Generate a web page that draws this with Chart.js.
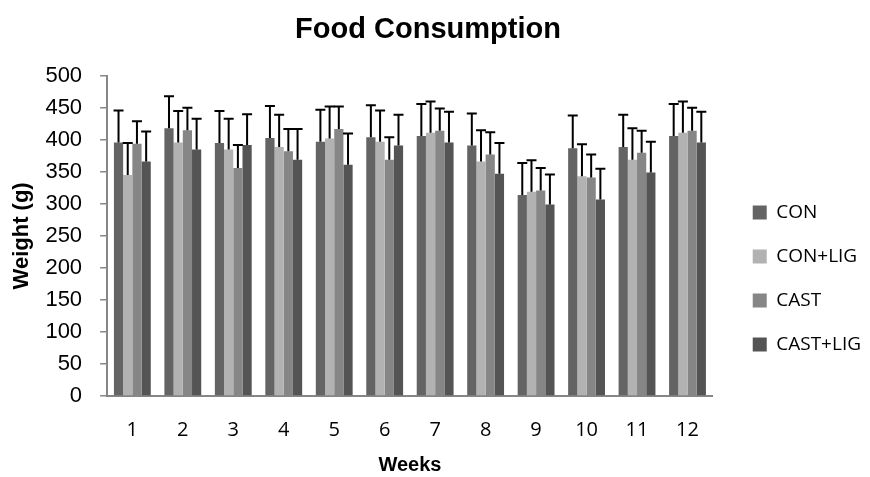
<!DOCTYPE html>
<html>
<head>
<meta charset="utf-8">
<script src="https://cdn.jsdelivr.net/npm/chart.js@4"></script>
<style>
  html, body { margin: 0; padding: 0; background: #fff; }
  #wrap { width: 870px; height: 477px; }
</style>
</head>
<body>
<div id="wrap"><canvas id="foodChart"></canvas></div>
<script>
const weeks = ['1', '2', '3', '4', '5', '6', '7', '8', '9', '10', '11', '12'];

const con = [396, 418, 395, 403, 397, 404, 406, 391, 314, 387, 389, 406];
const conErr = [50, 50, 50, 50, 50, 50, 50, 50, 50, 51, 50, 50];
const conLig = [345, 396, 385, 389, 402, 397, 411, 366, 319, 343, 369, 411];
const conLigErr = [50, 49, 48, 50, 50, 49, 49, 49, 49, 50, 49, 49];
const cast = [394, 415, 356, 382, 417, 369, 414, 377, 321, 341, 380, 414];
const castErr = [35, 35, 36, 35, 35, 35, 35, 35, 35, 36, 34, 36];
const castLig = [366, 385, 392, 369, 361, 391, 396, 347, 299, 307, 349, 396];
const castLigErr = [47, 48, 48, 48, 49, 48, 48, 48, 47, 48, 48, 48];

const yTicks = [0, 50, 100, 150, 200, 250, 300, 350, 400, 450, 500];

const axisGrey = '#868686';

// upper-only error bars with a cap, like the Excel original
const errorBars = {
  id: 'errorBars',
  afterDatasetsDraw(chart) {
    const ctx = chart.ctx;
    const yScale = chart.scales.y;
    ctx.save();
    ctx.strokeStyle = '#000';
    ctx.lineWidth = 2;
    chart.data.datasets.forEach((ds, i) => {
      const meta = chart.getDatasetMeta(i);
      if (meta.hidden) return;
      meta.data.forEach((bar, j) => {
        const top = yScale.getPixelForValue(ds.data[j] + ds.errors[j]);
        ctx.beginPath();
        ctx.moveTo(bar.x, bar.y);
        ctx.lineTo(bar.x, top);
        ctx.moveTo(bar.x - 5, top);
        ctx.lineTo(bar.x + 5, top);
        ctx.stroke();
      });
    });
    ctx.restore();
  }
};

// push the legend a bit away from the plot, Excel leaves a wider gap there
const legendGap = {
  id: 'legendGap',
  afterLayout(chart) {
    chart.legend.left += 15;
    chart.legend.right += 15;
  }
};

new Chart(document.getElementById('foodChart'), {
  type: 'bar',
  data: {
    labels: weeks,
    datasets: [
      { label: 'CON', data: con, errors: conErr, backgroundColor: '#646464' },
      { label: 'CON+LIG', data: conLig, errors: conLigErr, backgroundColor: '#b2b2b2' },
      { label: 'CAST', data: cast, errors: castErr, backgroundColor: '#868686' },
      { label: 'CAST+LIG', data: castLig, errors: castLigErr, backgroundColor: '#545454' }
    ]
  },
  options: {
    responsive: true,
    maintainAspectRatio: false,
    animation: false,
    datasets: {
      bar: { barPercentage: 1, categoryPercentage: 0.73, borderWidth: 0 }
    },
    layout: { padding: { left: 0, right: 14, top: 0, bottom: 0 } },
    scales: {
      x: {
        grid: { display: false, drawTicks: false, tickLength: 0 },
        border: { display: true, color: axisGrey, width: 2 },
        ticks: {
          color: '#000',
          padding: 22,
          font: { family: 'Open Sans', size: 20 }
        },
        title: {
          display: true,
          text: 'Weeks',
          color: '#000',
          padding: { top: -11, bottom: 0 },
          font: { family: 'Liberation Sans', size: 20, weight: 'bold' }
        }
      },
      y: {
        min: 0,
        max: 500,
        afterBuildTicks(scale) {
          scale.ticks = yTicks.map(v => ({ value: v }));
        },
        grid: { drawOnChartArea: false, drawTicks: true, tickLength: 7, color: axisGrey, lineWidth: 1.5 },
        border: { display: true, color: axisGrey, width: 2 },
        ticks: {
          color: '#000',
          padding: 18,
          font: { family: 'Liberation Sans', size: 22 }
        },
        title: {
          display: true,
          text: 'Weight (g)',
          color: '#000',
          padding: { top: 9, bottom: -8 },
          font: { family: 'Liberation Sans', size: 22, weight: 'bold' }
        }
      }
    },
    plugins: {
      title: {
        display: true,
        text: 'Food Consumption',
        color: '#000',
        padding: { top: 13, bottom: 28 },
        font: { family: 'Liberation Sans', size: 29, weight: 'bold' }
      },
      legend: {
        position: 'right',
        title: {
          display: true,
          text: '',
          font: { size: 10 },
          padding: { top: 0, bottom: 68 }
        },
        labels: {
          color: '#000',
          boxWidth: 14,
          boxHeight: 14,
          padding: 25,
          font: { family: 'Open Sans', size: 19 }
        }
      },
      tooltip: { enabled: false }
    }
  },
  plugins: [errorBars, legendGap]
});
</script>
</body>
</html>
